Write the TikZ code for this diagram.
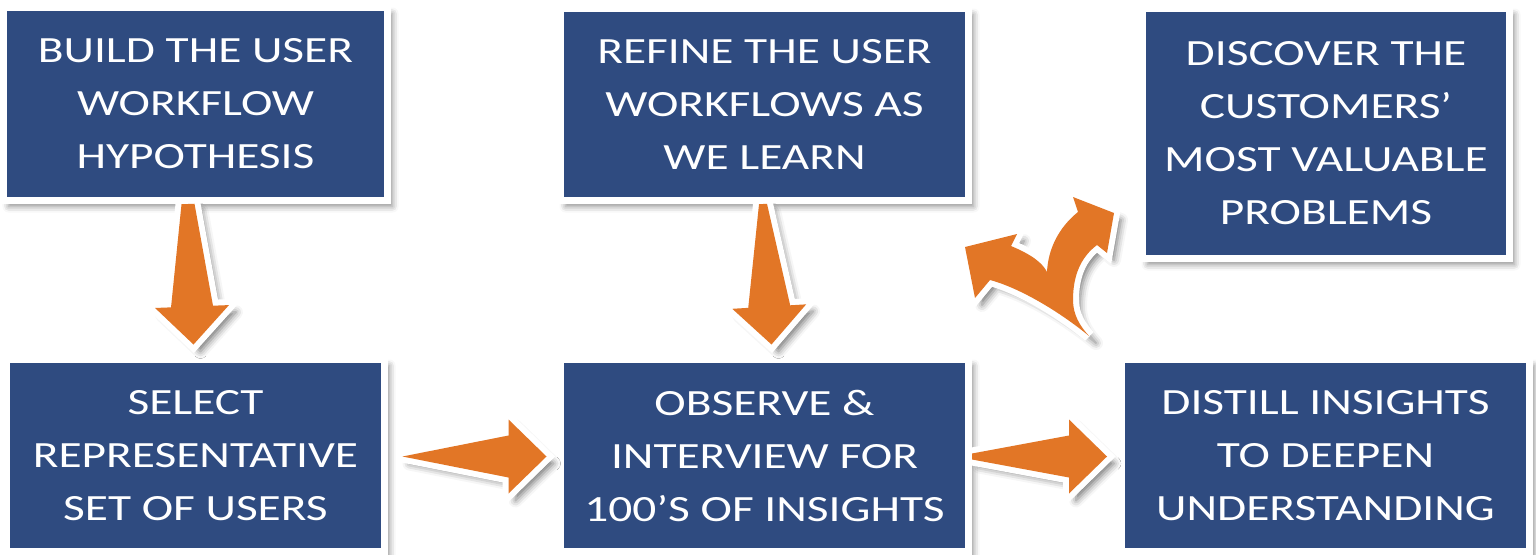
\documentclass[tikz,border=0pt]{standalone}
\usepackage{fontspec}
\setmainfont{Carlito}[FakeStretch=1.28]
\usepackage{tikz}
\usetikzlibrary{positioning,calc,shadows.blur}

\definecolor{boxblue}{RGB}{47,75,128}
\definecolor{arroworange}{RGB}{226,118,38}

\tikzset{
  stepbox/.style={draw=white, line width=7pt, fill=boxblue, text=white,
                  align=center, inner sep=0pt, outer sep=0pt,
                  font=\fontsize{37}{53}\selectfont,
                  blur shadow={shadow xshift=5pt, shadow yshift=-6pt,
                               shadow blur radius=6pt, shadow opacity=45}},
  flowarrow/.style={fill=arroworange,
                    blur shadow={shadow xshift=7pt, shadow yshift=-7pt,
                                 shadow blur radius=7pt, shadow opacity=55},
                    preaction={draw=white, line width=12pt}}
}

% tapered block arrow: tail half width #1, tail #2, tip #3
\newcommand{\flowstep}[3][0.01]{%
  \coordinate (fa-h) at ($(#3)!38pt!(#2)$);
  \fill[flowarrow] ($(#2)!#1pt!-90:(#3)$) -- ($(#2)!#1pt!90:(#3)$)
    -- ($(fa-h)!21pt!90:(#3)$) -- ($(fa-h)!37pt!90:(#3)$)
    -- (#3) -- ($(fa-h)!37pt!-90:(#3)$) -- ($(fa-h)!21pt!-90:(#3)$) -- cycle;
}

\begin{document}
\begin{tikzpicture}[x=1pt, y=-1pt]
  \useasboundingbox (0,0) rectangle (1536,554);

  % boxes
  \node[stepbox, minimum width=384pt, minimum height=193pt] (build) at (195.5,104)
    {BUILD THE USER\\WORKFLOW\\HYPOTHESIS};
  \node[stepbox, minimum width=408pt, minimum height=192pt] (refine) at (764.5,104.5)
    {REFINE THE USER\\WORKFLOWS AS\\WE LEARN};
  \node[stepbox, minimum width=367pt, minimum height=250pt] (discover) at (1326,133.5)
    {DISCOVER THE\\CUSTOMERS’\\MOST VALUABLE\\PROBLEMS};
  \node[stepbox, minimum width=378pt, minimum height=192pt] (select) at (195.5,455.5)
    {SELECT\\REPRESENTATIVE\\SET OF USERS};
  \node[stepbox, minimum width=408pt, minimum height=192pt] (observe) at (764.5,455.5)
    {OBSERVE \&\\INTERVIEW FOR\\100’S OF INSIGHTS};
  \node[stepbox, minimum width=408pt, minimum height=192pt] (distill) at (1325.5,455.5)
    {DISTILL INSIGHTS\\TO DEEPEN\\UNDERSTANDING};

  % arrow ends
  \coordinate (t1) at ($(build.south)+(-7.5,3.5)$);
  \coordinate (p1) at ($(select.north)+(-2,-15)$);
  \coordinate (t2) at ($(refine.south)+(-1.5,3.5)$);
  \coordinate (p2) at ($(observe.north)+(7,-15)$);
  \coordinate (t3) at ($(select.east)+(18,1)$);
  \coordinate (p3) at ($(observe.west)+(-14,1)$);
  \coordinate (t4) at ($(observe.east)+(3.5,1)$);
  \coordinate (p4) at ($(distill.west)+(-14.5,1)$);

  \flowstep[6.5]{t1}{p1}
  \flowstep[4]{t2}{p2}
  \flowstep{t3}{p3}
  \flowstep[3]{t4}{p4}

  % split arrow
  \fill[flowarrow] (965,247) -- (1017,234) -- (1011,246)
    .. controls (1030,254) and (1042,262) .. (1047,272)
    .. controls (1048,250) and (1058,228) .. (1078,212)
    -- (1073,197) -- (1114,213) -- (1107,253) -- (1097,245)
    .. controls (1081,257) and (1073,275) .. (1073,300)
    .. controls (1073,315) and (1080,326) .. (1089,336)
    .. controls (1060,312) and (1020,288) .. (990,280)
    -- (975,298) -- cycle;
\end{tikzpicture}
\end{document}
